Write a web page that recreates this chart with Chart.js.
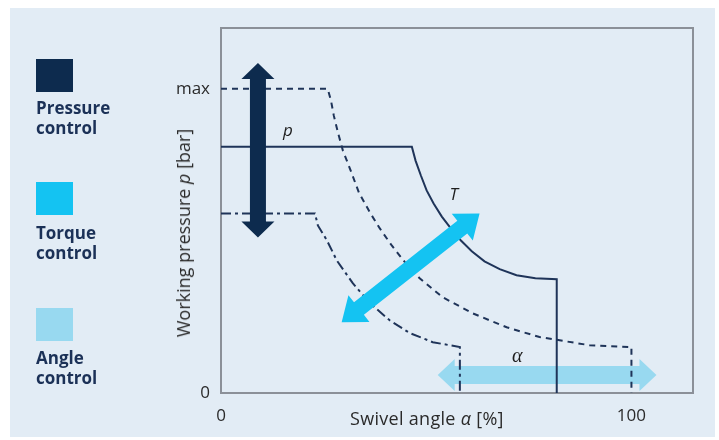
<!DOCTYPE html>
<html><head><meta charset="utf-8">
<script src="https://cdn.jsdelivr.net/npm/chart.js@4.4.1/dist/chart.umd.min.js"></script>
<style>
html,body{margin:0;padding:0;background:#fff;width:719px;height:440px;overflow:hidden;font-family:"Open Sans",sans-serif;}
#panel{position:absolute;left:10px;top:8px;width:705px;height:429px;background:#e2ecf5;}
#c{position:absolute;left:0;top:0;}
.sw{position:absolute;left:36px;width:37px;height:33px;}
.lg{position:absolute;left:36px;font-weight:700;font-size:17px;line-height:20px;color:#1b3157;}
.ttl{position:absolute;font-size:18px;color:#2a2a2a;white-space:nowrap;line-height:22px;}
</style></head><body>
<div id="panel"></div>
<canvas id="c" width="719" height="440"></canvas>
<div id="legend"></div>
<div class="ttl" id="xt" style="left:350px;top:407px;letter-spacing:0.3px;"></div>
<div class="ttl" id="yt" style="left:183px;top:233px;transform:translate(-50%,-50%) rotate(-90deg);"></div>
<script>
// ---- data (x: swivel angle %, y: working pressure, max = 100) ----
const maxPressureCurve = [[0,100],[26,100],[26.8,96.1],[27.5,91.1],[28.5,85.6],[29.7,79.7],[31.6,73.1],[33.6,65.9],[36.3,59.3],[38.7,54.1],[41.6,48.5],[44.8,43.0],[48.4,37.7],[54.0,31.5],[61.3,26.2],[69.6,21.6],[77.6,18.4],[89.8,15.7],[100,15.1],[100,0]];
const torqueCurve = [[0,81],[46.5,81],[47.4,76.4],[48.7,71.5],[50.1,66.6],[51.8,62.3],[53.8,58.0],[56.0,54.1],[58.4,50.2],[61.1,46.6],[64.2,43.3],[67.9,40.7],[72.0,38.7],[76.6,37.7],[81.8,37.4],[81.8,0]];
const minPressureCurve = [[0,59],[22.9,59],[23.6,55.1],[25.8,50.2],[28.2,43.6],[32.1,36.1],[36.3,29.5],[41.1,23.9],[46.0,19.7],[51.6,16.7],[58.2,15.1],[58.2,0]];
const pressureArrow = [[9.0,108.5],[9.0,51.1]];
const torqueArrow = [[29.4,23.3],[63.0,59.0]];
const angleArrow = [[52.8,5.9],[106.1,5.9]];
const curveLabels = [{text:'p', x:16.3, y:86.2},{text:'T', x:56.7, y:64.9},{text:'α', x:72.2, y:11.8}];
const xTickValues = [0,100];
const xTickLabels = ['0','100'];
const yTickValues = [0,100];
const yTickLabels = ['0','max'];
const legendLabels = [['Pressure','control'],['Torque','control'],['Angle','control']];
const xTitle = 'Swivel angle <i>α</i> [%]';
const yTitle = 'Working pressure <i>p</i> [bar]';

// ---- legend / titles as DOM text ----
const legendColors = ['#0d2b4e','#14c3f2','#98d9f0'];
const swTops = [59,182,308];
const txTops = [98,223,348];
const lg = document.getElementById('legend');
for (let i=0;i<3;i++){
  const s=document.createElement('div'); s.className='sw'; s.style.top=swTops[i]+'px'; s.style.background=legendColors[i]; lg.appendChild(s);
  const t=document.createElement('div'); t.className='lg'; t.style.top=txTops[i]+'px';
  t.innerHTML=legendLabels[i][0]+'<br>'+legendLabels[i][1];
  lg.appendChild(t);
}
document.getElementById('xt').innerHTML = xTitle;
document.getElementById('yt').innerHTML = yTitle;

const toPts = a => a.map(p=>({x:p[0],y:p[1]}));
const navy = '#1f3459';

function drawArrow(ctx, chart, pts, sw, hw, hl, color){
  const xs=chart.scales.x, ys=chart.scales.y;
  const ax=xs.getPixelForValue(pts[0][0]), ay=ys.getPixelForValue(pts[0][1]);
  const bx=xs.getPixelForValue(pts[1][0]), by=ys.getPixelForValue(pts[1][1]);
  const L=Math.hypot(bx-ax,by-ay); const ux=(bx-ax)/L, uy=(by-ay)/L; const nx=-uy, ny=ux;
  const P=[
    [ax,ay],
    [ax+ux*hl+nx*hw/2, ay+uy*hl+ny*hw/2],
    [ax+ux*hl+nx*sw/2, ay+uy*hl+ny*sw/2],
    [bx-ux*hl+nx*sw/2, by-uy*hl+ny*sw/2],
    [bx-ux*hl+nx*hw/2, by-uy*hl+ny*hw/2],
    [bx,by],
    [bx-ux*hl-nx*hw/2, by-uy*hl-ny*hw/2],
    [bx-ux*hl-nx*sw/2, by-uy*hl-ny*sw/2],
    [ax+ux*hl-nx*sw/2, ay+uy*hl-ny*sw/2],
    [ax+ux*hl-nx*hw/2, ay+uy*hl-ny*hw/2]
  ];
  ctx.save(); ctx.beginPath(); ctx.moveTo(P[0][0],P[0][1]);
  for(let i=1;i<P.length;i++) ctx.lineTo(P[i][0],P[i][1]);
  ctx.closePath(); ctx.fillStyle=color; ctx.fill(); ctx.restore();
}

const decor = {
  id:'decor',
  beforeDatasetsDraw(chart){
    const ctx=chart.ctx, a=chart.chartArea;
    ctx.save(); ctx.strokeStyle='#8b9098'; ctx.lineWidth=2;
    ctx.strokeRect(a.left, a.top, a.right-a.left, a.bottom-a.top); ctx.restore();
    drawArrow(ctx, chart, angleArrow, 18, 32, 17, '#98d9f0');
  },
  afterDatasetsDraw(chart){
    const ctx=chart.ctx;
    drawArrow(ctx, chart, pressureArrow, 16, 33, 16, '#0d2b4e');
    drawArrow(ctx, chart, torqueArrow, 16, 34, 22, '#14c3f2');
    ctx.save(); ctx.fillStyle='#1e1e1e'; ctx.textAlign='center'; ctx.textBaseline='middle';
    curveLabels.forEach(l=>{
      ctx.font = l.text==='α' ? 'italic 20px "Liberation Serif", serif' : 'italic 17px "Open Sans", sans-serif';
      ctx.fillText(l.text, chart.scales.x.getPixelForValue(l.x), chart.scales.y.getPixelForValue(l.y));
    });
    ctx.restore();
  }
};

new Chart(document.getElementById('c'), {
  type:'scatter',
  data:{datasets:[
    {data:toPts(maxPressureCurve), showLine:true, borderColor:navy, borderWidth:2, borderDash:[6,5], pointRadius:0},
    {data:toPts(torqueCurve), showLine:true, borderColor:navy, borderWidth:2, pointRadius:0},
    {data:toPts(minPressureCurve), showLine:true, borderColor:navy, borderWidth:2, borderDash:[10,4,3,4], pointRadius:0}
  ]},
  options:{
    responsive:false, animation:false, events:[],
    layout:{padding:{left:0, top:28, right:26, bottom:0}},
    plugins:{legend:{display:false}, tooltip:{enabled:false}},
    scales:{
      x:{type:'linear', min:0, max:115,
        grid:{display:false, drawTicks:false}, border:{display:false},
        afterBuildTicks:s=>{s.ticks = xTickValues.map(v=>({value:v}));},
        afterFit:s=>{s.height=47;},
        ticks:{padding:13, color:'#2a2a2a', font:{family:'"Open Sans", sans-serif', size:17}, maxRotation:0,
          callback:(v)=>xTickLabels[xTickValues.indexOf(v)]}
      },
      y:{type:'linear', min:0, max:120,
        grid:{display:false, drawTicks:false}, border:{display:false},
        afterBuildTicks:s=>{s.ticks = yTickValues.map(v=>({value:v}));},
        afterFit:s=>{s.width=221;},
        ticks:{padding:11, color:'#2a2a2a', font:{family:'"Open Sans", sans-serif', size:17},
          callback:(v)=>yTickLabels[yTickValues.indexOf(v)]}
      }
    }
  },
  plugins:[decor]
});
</script>
</body></html>
